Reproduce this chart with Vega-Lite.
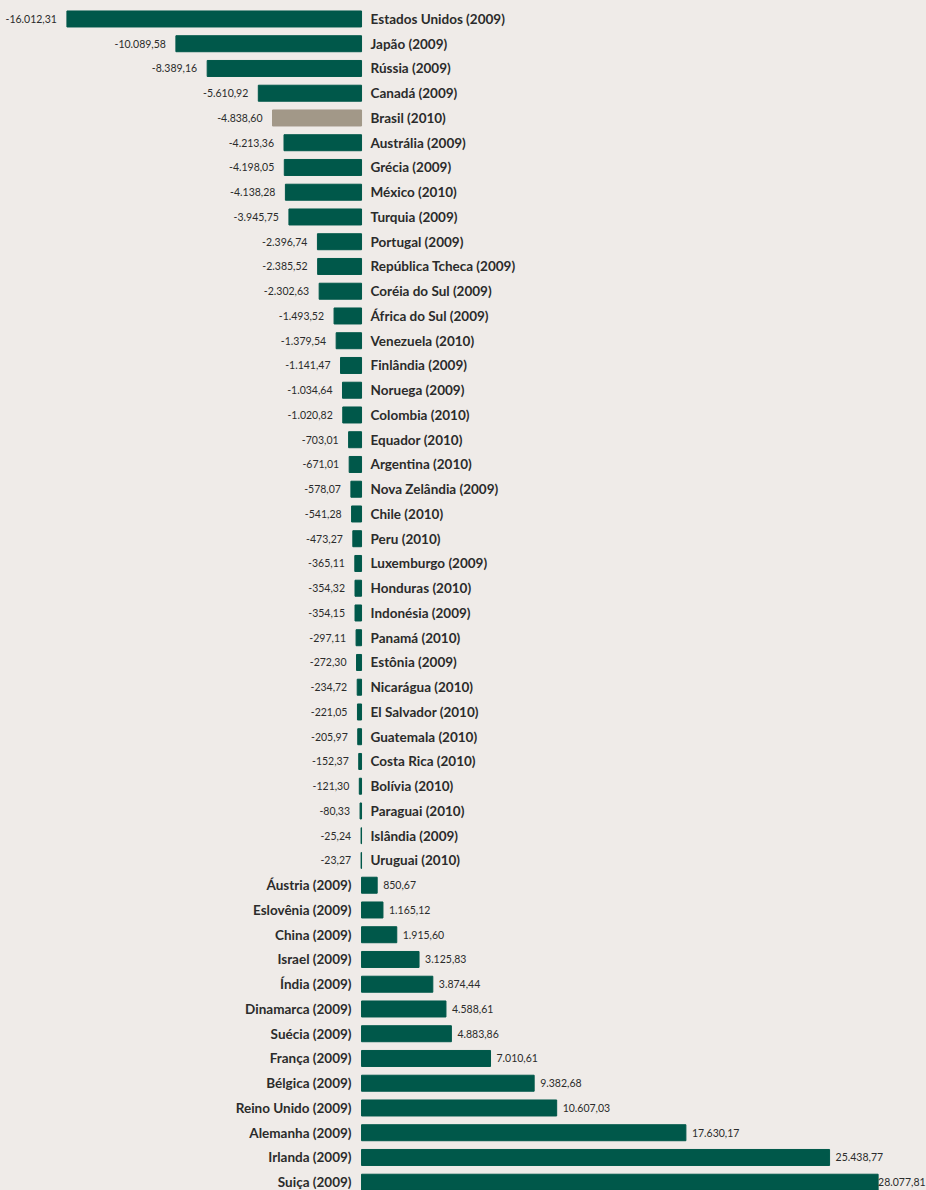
{
  "$schema": "https://vega.github.io/schema/vega-lite/v6.json",
  "width": 926,
  "height": 1190,
  "autosize": "none",
  "padding": 0,
  "background": "#efebe8",
  "config": {
    "view": {"stroke": null},
    "locale": {"number": {"decimal": ",", "thousands": ".", "grouping": [3], "currency": ["", ""], "minus": "-"}}
  },
  "data": {"values": [
    {"pais": "Estados Unidos (2009)", "valor": -16012.31, "destaque": "nao"},
    {"pais": "Japão (2009)", "valor": -10089.58, "destaque": "nao"},
    {"pais": "Rússia (2009)", "valor": -8389.16, "destaque": "nao"},
    {"pais": "Canadá (2009)", "valor": -5610.92, "destaque": "nao"},
    {"pais": "Brasil (2010)", "valor": -4838.60, "destaque": "sim"},
    {"pais": "Austrália (2009)", "valor": -4213.36, "destaque": "nao"},
    {"pais": "Grécia (2009)", "valor": -4198.05, "destaque": "nao"},
    {"pais": "México (2010)", "valor": -4138.28, "destaque": "nao"},
    {"pais": "Turquia (2009)", "valor": -3945.75, "destaque": "nao"},
    {"pais": "Portugal (2009)", "valor": -2396.74, "destaque": "nao"},
    {"pais": "República Tcheca (2009)", "valor": -2385.52, "destaque": "nao"},
    {"pais": "Coréia do Sul (2009)", "valor": -2302.63, "destaque": "nao"},
    {"pais": "África do Sul (2009)", "valor": -1493.52, "destaque": "nao"},
    {"pais": "Venezuela (2010)", "valor": -1379.54, "destaque": "nao"},
    {"pais": "Finlândia (2009)", "valor": -1141.47, "destaque": "nao"},
    {"pais": "Noruega (2009)", "valor": -1034.64, "destaque": "nao"},
    {"pais": "Colombia (2010)", "valor": -1020.82, "destaque": "nao"},
    {"pais": "Equador (2010)", "valor": -703.01, "destaque": "nao"},
    {"pais": "Argentina (2010)", "valor": -671.01, "destaque": "nao"},
    {"pais": "Nova Zelândia (2009)", "valor": -578.07, "destaque": "nao"},
    {"pais": "Chile (2010)", "valor": -541.28, "destaque": "nao"},
    {"pais": "Peru (2010)", "valor": -473.27, "destaque": "nao"},
    {"pais": "Luxemburgo (2009)", "valor": -365.11, "destaque": "nao"},
    {"pais": "Honduras (2010)", "valor": -354.32, "destaque": "nao"},
    {"pais": "Indonésia (2009)", "valor": -354.15, "destaque": "nao"},
    {"pais": "Panamá (2010)", "valor": -297.11, "destaque": "nao"},
    {"pais": "Estônia (2009)", "valor": -272.30, "destaque": "nao"},
    {"pais": "Nicarágua (2010)", "valor": -234.72, "destaque": "nao"},
    {"pais": "El Salvador (2010)", "valor": -221.05, "destaque": "nao"},
    {"pais": "Guatemala (2010)", "valor": -205.97, "destaque": "nao"},
    {"pais": "Costa Rica (2010)", "valor": -152.37, "destaque": "nao"},
    {"pais": "Bolívia (2010)", "valor": -121.30, "destaque": "nao"},
    {"pais": "Paraguai (2010)", "valor": -80.33, "destaque": "nao"},
    {"pais": "Islândia (2009)", "valor": -25.24, "destaque": "nao"},
    {"pais": "Uruguai (2010)", "valor": -23.27, "destaque": "nao"},
    {"pais": "Áustria (2009)", "valor": 850.67, "destaque": "nao"},
    {"pais": "Eslovênia (2009)", "valor": 1165.12, "destaque": "nao"},
    {"pais": "China (2009)", "valor": 1915.60, "destaque": "nao"},
    {"pais": "Israel (2009)", "valor": 3125.83, "destaque": "nao"},
    {"pais": "Índia (2009)", "valor": 3874.44, "destaque": "nao"},
    {"pais": "Dinamarca (2009)", "valor": 4588.61, "destaque": "nao"},
    {"pais": "Suécia (2009)", "valor": 4883.86, "destaque": "nao"},
    {"pais": "França (2009)", "valor": 7010.61, "destaque": "nao"},
    {"pais": "Bélgica (2009)", "valor": 9382.68, "destaque": "nao"},
    {"pais": "Reino Unido (2009)", "valor": 10607.03, "destaque": "nao"},
    {"pais": "Alemanha (2009)", "valor": 17630.17, "destaque": "nao"},
    {"pais": "Irlanda (2009)", "valor": 25438.77, "destaque": "nao"},
    {"pais": "Suiça (2009)", "valor": 28077.81, "destaque": "nao"}
  ]},
  "encoding": {
    "y": {
      "field": "pais", "type": "nominal",
      "sort": {"field": "valor", "order": "ascending"},
      "scale": {"range": [6.6, 1194.6], "paddingInner": 0, "paddingOuter": 0},
      "axis": null
    }
  },
  "layer": [
    {
      "mark": {"type": "bar", "height": 16, "strokeWidth": 1},
      "encoding": {
        "x": {"field": "valor", "type": "quantitative", "scale": {"domain": [-19650, 30680], "nice": false, "zero": false}, "axis": null},
        "x2": {"datum": 0},
        "color": {"field": "destaque", "type": "nominal", "scale": {"domain": ["nao", "sim"], "range": ["#00584a", "#a29888"]}, "legend": null},
        "stroke": {"field": "destaque", "type": "nominal", "scale": {"domain": ["nao", "sim"], "range": ["#00584a", "#a29888"]}, "legend": null}
      }
    },
    {
      "transform": [{"filter": "datum.valor < 0"}],
      "mark": {"type": "text", "align": "right", "baseline": "middle", "dx": -10, "dy": 1, "font": "Lato", "fontSize": 10.5, "color": "#2b2b2b"},
      "encoding": {
        "x": {"field": "valor", "type": "quantitative"},
        "text": {"field": "valor", "type": "quantitative", "format": ",.2f"}
      }
    },
    {
      "transform": [{"filter": "datum.valor < 0"}],
      "mark": {"type": "text", "align": "left", "baseline": "middle", "dx": 9, "dy": 1, "font": "Lato", "fontSize": 13.5, "fontWeight": "bold", "color": "#2b2b2b"},
      "encoding": {
        "x": {"datum": 0, "type": "quantitative"},
        "text": {"field": "pais", "type": "nominal"}
      }
    },
    {
      "transform": [{"filter": "datum.valor > 0"}],
      "mark": {"type": "text", "align": "left", "baseline": "middle", "dx": {"expr": "datum.valor > 27000 ? 0 : 6"}, "dy": 1, "font": "Lato", "fontSize": 10.5, "color": "#2b2b2b"},
      "encoding": {
        "x": {"field": "valor", "type": "quantitative"},
        "text": {"field": "valor", "type": "quantitative", "format": ",.2f"}
      }
    },
    {
      "transform": [{"filter": "datum.valor > 0"}],
      "mark": {"type": "text", "align": "right", "baseline": "middle", "dx": -10, "dy": 1, "font": "Lato", "fontSize": 13.5, "fontWeight": "bold", "color": "#2b2b2b"},
      "encoding": {
        "x": {"datum": 0, "type": "quantitative"},
        "text": {"field": "pais", "type": "nominal"}
      }
    }
  ]
}
